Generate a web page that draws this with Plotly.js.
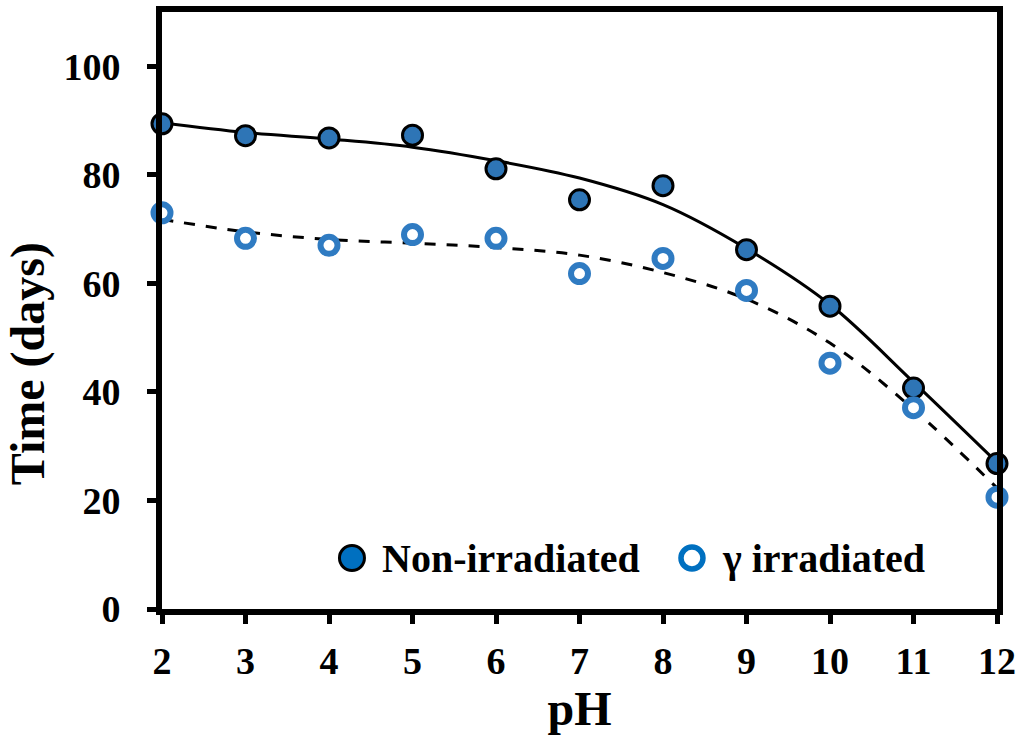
<!DOCTYPE html>
<html>
<head>
<meta charset="utf-8">
<script src="https://cdn.plot.ly/plotly-3.0.1.min.js"></script>
<style>
  html, body { margin: 0; padding: 0; background: #fff; }
  #chart { width: 1024px; height: 742px; }
</style>
</head>
<body>
<div id="chart"></div>
<script>
// measured points, days vs pH
var ph = [2, 3, 4, 5, 6, 7, 8, 9, 10, 11, 12];
var non_irradiated = [89.4, 87.2, 86.8, 87.3, 81.1, 75.4, 78.0, 66.2, 55.8, 40.7, 26.8];
var gamma_irradiated = [73.0, 68.3, 67.0, 69.0, 68.3, 61.8, 64.6, 58.7, 45.3, 37.1, 20.6];

// trend lines
var fit_non = [89.6, 87.8, 86.6, 85.1, 82.6, 79.4, 74.5, 66.4, 56.1, 41.8, 27.0];
var fit_gamma = [71.8, 69.5, 68.1, 67.4, 66.6, 65.2, 62.0, 57.1, 49.0, 36.8, 22.3];

var xtick_vals = [2, 3, 4, 5, 6, 7, 8, 9, 10, 11, 12];
var ytick_vals = [0, 20, 40, 60, 80, 100];
var legend_names = ['Non-irradiated', 'γ irradiated'];

var blue = '#2E75B6';
var ring_blue = '#2F7BC2';
var key_blue = '#0070C0';
var font_serif = 'Liberation Serif, Times New Roman, serif';

var traces = [
  {
    x: ph,
    y: fit_non,
    mode: 'lines',
    line: { color: '#000', width: 3, shape: 'spline', smoothing: 1 },
    hoverinfo: 'skip',
  },
  {
    x: ph,
    y: fit_gamma,
    mode: 'lines',
    line: { color: '#000', width: 3, dash: '11px,11px', shape: 'spline', smoothing: 1 },
    hoverinfo: 'skip',
  },
  {
    x: ph,
    y: non_irradiated,
    name: legend_names[0],
    mode: 'markers',
    marker: { size: 20, color: blue, line: { color: '#000', width: 3 } },
    cliponaxis: false,
  },
  {
    x: ph,
    y: gamma_irradiated,
    name: legend_names[1],
    mode: 'markers',
    marker: { size: 17, color: '#fff', line: { color: ring_blue, width: 6 } },
    cliponaxis: false,
  },
];

// legend drawn by hand so the keys can be as big as in the original
var key_y = 0.0854;
var key_x = [0.2275, 0.6347];
var label_x = [0.261, 0.668];

var shapes = [
  {
    type: 'circle', xref: 'paper', yref: 'paper',
    xsizemode: 'pixel', ysizemode: 'pixel',
    xanchor: key_x[0], yanchor: key_y,
    x0: -12.5, x1: 12.5, y0: -12.5, y1: 12.5,
    fillcolor: key_blue, line: { color: '#000', width: 3 },
  },
  {
    type: 'circle', xref: 'paper', yref: 'paper',
    xsizemode: 'pixel', ysizemode: 'pixel',
    xanchor: key_x[1], yanchor: key_y,
    x0: -11, x1: 11, y0: -11, y1: 11,
    fillcolor: '#fff', line: { color: key_blue, width: 5.5 },
  },
];

var annotations = legend_names.map(function (name, i) {
  return {
    text: '<b>' + name + '</b>',
    xref: 'paper', yref: 'paper',
    x: label_x[i], y: key_y,
    xanchor: 'left', yanchor: 'middle',
    showarrow: false,
    font: { family: font_serif, size: 40, color: '#000' },
  };
});

annotations.push({
  text: '<b>Time (days)</b>',
  xref: 'paper', yref: 'paper',
  x: 0, y: 0.41,
  xshift: -134,
  xanchor: 'center', yanchor: 'middle',
  textangle: -90,
  showarrow: false,
  font: { family: font_serif, size: 48, color: '#000' },
});

var layout = {
  width: 1024,
  height: 742,
  margin: { l: 162, r: 27, t: 12, b: 133 },
  paper_bgcolor: '#fff',
  plot_bgcolor: '#fff',
  font: { family: font_serif, color: '#000' },
  showlegend: false,
  shapes: shapes,
  annotations: annotations,
  xaxis: {
    range: [2, 12],
    tickvals: xtick_vals,
    ticks: 'outside',
    ticklen: 9,
    tickwidth: 5,
    tickcolor: '#000',
    showline: true,
    linewidth: 6,
    linecolor: '#000',
    mirror: true,
    showgrid: false,
    zeroline: false,
    ticklabelstandoff: 4,
    tickfont: { family: font_serif, size: 38, weight: 'bold' },
    title: {
      text: '<b>pH</b>',
      font: { family: font_serif, size: 48 },
      standoff: 10,
    },
  },
  yaxis: {
    range: [0, 110],
    tickvals: ytick_vals,
    ticks: 'outside',
    ticklen: 9,
    tickwidth: 5,
    tickcolor: '#000',
    showline: true,
    linewidth: 6,
    linecolor: '#000',
    mirror: true,
    showgrid: false,
    zeroline: false,
    ticklabelstandoff: 19,
    tickfont: { family: font_serif, size: 38, weight: 'bold' },
  },
};

Plotly.newPlot('chart', traces, layout, { displayModeBar: false, staticPlot: true });
</script>
</body>
</html>
